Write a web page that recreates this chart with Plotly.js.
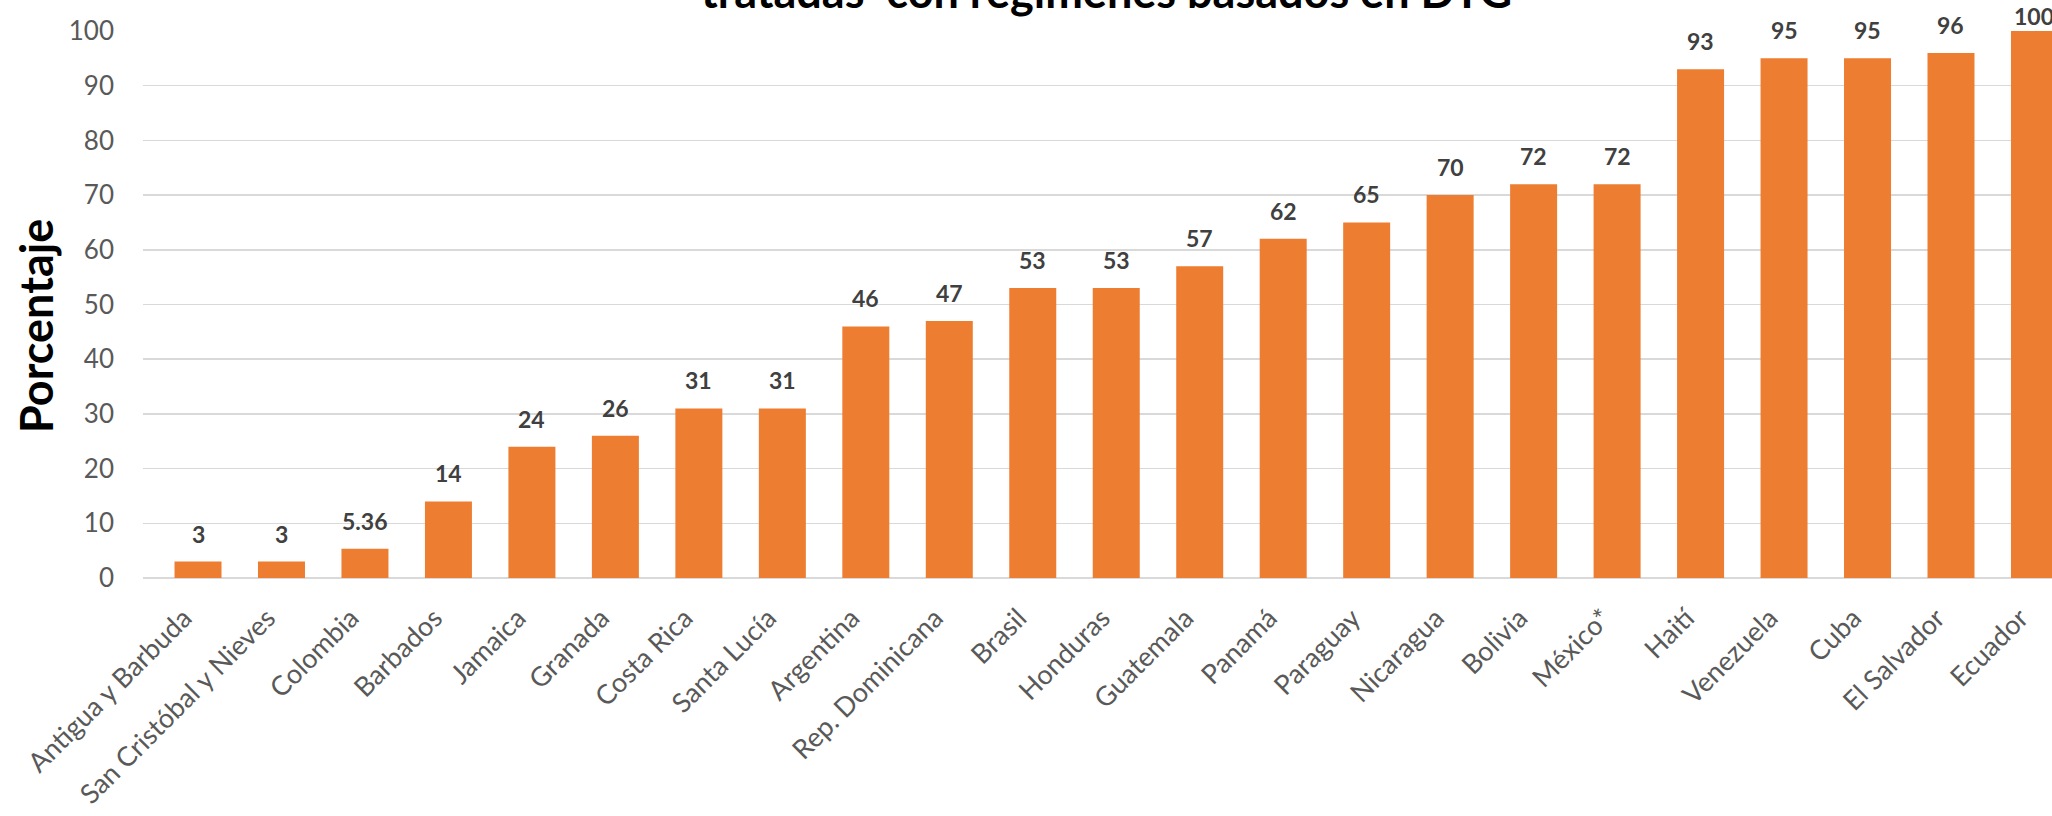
<!DOCTYPE html>
<html>
<head>
<meta charset="utf-8">
<script src="https://cdn.plot.ly/plotly-3.0.1.min.js"></script>
<style>html,body{margin:0;padding:0;background:#fff;overflow:hidden}#chart{width:2052px;height:816px}</style>
</head>
<body>
<div id="chart"></div>
<script>
const countries = ["Antigua y Barbuda","San Cristóbal y Nieves","Colombia","Barbados","Jamaica","Granada","Costa Rica","Santa Lucía","Argentina","Rep. Dominicana","Brasil","Honduras","Guatemala","Panamá","Paraguay","Nicaragua","Bolivia","México*","Haití","Venezuela","Cuba","El Salvador","Ecuador"];
const percentages = [3,3,5.36,14,24,26,31,31,46,47,53,53,57,62,65,70,72,72,93,95,95,96,100];
const labels = percentages.map(v => String(v));
const yTicks = [0,10,20,30,40,50,60,70,80,90,100];
const titleLine = "tratadas&nbsp;&nbsp;con regímenes basados en DTG";
const yTitle = "Porcentaje";

const W = 2052, H = 816;
const mL = 143, mR = 0, mT = 31, mB = 238;
const plotH = H - mT - mB;
const plotW = W - mL - mR;

const labelAnns = countries.map((c, i) => {
  const v = percentages[i];
  // keep label inside the chart area near top (Excel behavior)
  const room = (100 - v) / 100 * plotH + mT; // px from top of canvas to bar top
  const shift = Math.min(12, room - 32);
  return {
    x: c, y: v, xref: 'x', yref: 'y', text: labels[i], showarrow: false,
    yanchor: 'bottom', yshift: shift,
    font: {family: 'Lato, sans-serif', size: 23, color: '#404040', weight: 'bold'}
  };
});

const data = [{
  type: 'bar', x: countries, y: percentages,
  marker: {color: '#ED7D31'},
  hoverinfo: 'x+y'
}];

const layout = {
  width: W, height: H,
  margin: {l: mL, r: mR, t: mT, b: mB, pad: 0},
  paper_bgcolor: '#ffffff', plot_bgcolor: '#ffffff',
  bargap: 0.437,
  showlegend: false,
  xaxis: {
    type: 'category',
    range: [-0.659, 22.21],
    tickangle: -45,
    tickfont: {family: 'Lato, sans-serif', size: 27, color: '#595959'},
    showgrid: false, zeroline: false, showline: false,
    ticks: '', ticklabelstandoff: 18, ticklabelshift: -14, automargin: false
  },
  yaxis: {
    range: [0, 100],
    tickvals: yTicks,
    ticktext: yTicks.map(String),
    tickfont: {family: 'Lato, sans-serif', size: 26, color: '#595959'},
    showgrid: true, gridcolor: '#d9d9d9', gridwidth: 1.5,
    zeroline: true, zerolinecolor: '#d9d9d9', zerolinewidth: 2,
    showline: false, ticks: '', ticklabelstandoff: 28, automargin: false
  },
  annotations: labelAnns.concat([
    {
      xref: 'paper', yref: 'paper', x: (1106 - mL) / plotW, y: (578 - (10 - 19)) / plotH,
      xanchor: 'center', yanchor: 'middle', showarrow: false,
      text: titleLine,
      font: {family: 'Lato, sans-serif', size: 45, color: '#000000', weight: 'bold'}
    },
    {
      xref: 'paper', yref: 'paper', x: (36 - mL) / plotW, y: (578 - 326) / plotH,
      xanchor: 'center', yanchor: 'middle', textangle: -90, showarrow: false,
      text: yTitle,
      font: {family: 'Lato, sans-serif', size: 45, color: '#000000', weight: 'bold'}
    }
  ])
};

Plotly.newPlot('chart', data, layout, {displayModeBar: false, staticPlot: true});
</script>
</body>
</html>
